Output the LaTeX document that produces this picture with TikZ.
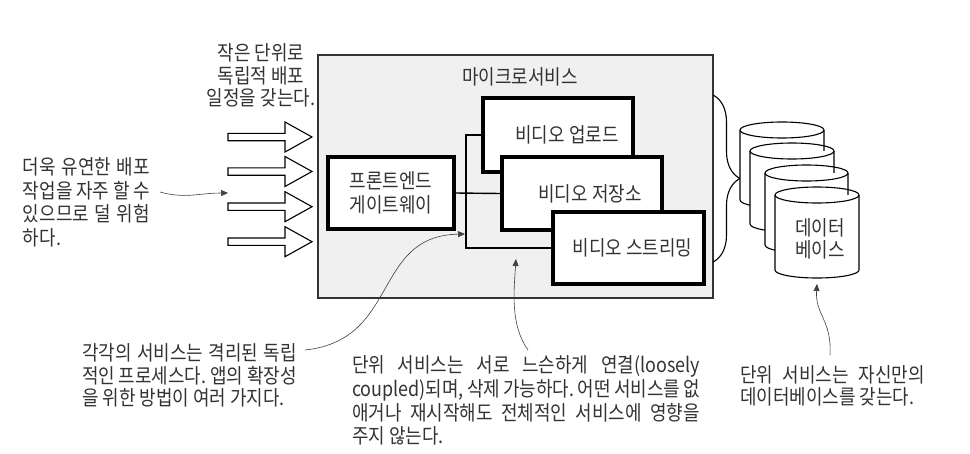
\documentclass[tikz,border=0pt]{standalone}
\usepackage{fontspec}
\setmainfont{Noto Sans CJK KR}[FakeStretch=0.875]
\usetikzlibrary{arrows.meta,decorations.pathreplacing}
\frenchspacing
\newcommand\jline[2]{\makebox[#1][s]{#2}}
\newcommand\dbcyl[4]{%
  \pgfmathsetmacro\dbcx{(#1+#3)/2}%
  \pgfmathsetmacro\dbrx{(#3-#1)/2}%
  \fill[white] (#1,#2+8) rectangle (#3,#4-8);
  \fill[white] (\dbcx,#4-8) ellipse[x radius=\dbrx, y radius=8];
  \draw[cylline] (#1,#2+8) -- (#1,#4-8) arc[start angle=180,end angle=0,x radius=\dbrx,y radius=8] -- (#3,#2+8);
  \draw[cylline] (\dbcx,#2+8) ellipse[x radius=\dbrx, y radius=8];
}
\begin{document}
\frenchspacing
\begin{tikzpicture}[x=1pt,y=-1pt,
  txt/.style={text=black!80, inner sep=0pt, font=\frenchspacing\fontsize{20.5}{22.5}\selectfont},
  svc/.style={draw=black, line width=3.2pt, fill=white, inner sep=0pt, text=black!80, font=\fontsize{20.5}{24}\selectfont},
  conn/.style={line width=1.4pt, draw=black},
  note/.style={draw=black!75, line width=0.6pt, -{Triangle[length=7pt,width=6pt]}},
  hollow/.style={draw=black, line width=1.1pt, fill=white, line join=miter},
  cylline/.style={draw=black, line width=1.1pt},
  msbox/.style={draw=black!80, line width=1.4pt, fill=black!6}
]
\useasboundingbox (0,0) rectangle (970,453);
\fill[white] (0,0) rectangle (970,453);

% main microservices box
\node[msbox, minimum width=395pt, minimum height=243pt, inner sep=0pt] (ms) at (515.5,176.5) {};
\node[txt] (mstitle) at (520,77) {마이크로서비스};

% services
\node[svc, minimum width=126pt, minimum height=72pt, align=center] (gw) at (391,193) {프론트엔드\\게이트웨이};
\node[svc, minimum width=150pt, minimum height=74pt] (up) at (558,135) {\hspace*{18pt}비디오 업로드};
\node[svc, minimum width=160pt, minimum height=73pt] (store) at (582,193.5) {\hspace*{16pt}비디오 저장소};
\node[svc, minimum width=151pt, minimum height=72pt] (stream) at (628.5,248) {\hspace*{8pt}비디오 스트리밍};

% connectors
\coordinate (bus) at (466,0);
\draw[conn] (gw.east) -- (store.west);
\draw[conn] (up.west) -- (up.west -| bus) |- (stream.west);

% hollow arrows
\foreach \c in {137,171.5,206.7,241.7}{
  \draw[hollow] (228,\c-3.7) -- (285,\c-3.7) -- (285,\c-15) -- (312,\c) -- (285,\c+15) -- (285,\c+3.7) -- (228,\c+3.7) -- cycle;
}

% brace
\coordinate (brtop) at (713,95);
\coordinate (brbot) at (713,262);
\draw[line width=1.1pt, decorate, decoration={brace, amplitude=27pt}] (brtop) -- (brbot);

% databases
\dbcyl{740}{122}{824}{208}
\dbcyl{750}{143}{834}{232}
\dbcyl{765}{165}{848}{253}
\dbcyl{775}{187}{859}{278}
\node[txt, align=center, font=\fontsize{20.5}{22}\selectfont] (db) at (820,239) {데이터\\베이스};

% texts
\node[txt, align=center] (ttop) at (261,75.5) {작은 단위로\\독립적 배포\\일정을 갖는다.};
\node[txt, align=left, font=\fontsize{20.5}{23.5}\selectfont] (tleft) at (86.5,202.5)
  {\jline{127pt}{더욱 유연한 배포}\\\jline{127pt}{작업을 자주 할 수}\\\jline{127pt}{있으므로 덜 위험}\\하다.};
\node[txt, align=left] (tproc) at (189.5,375.5)
  {\jline{215pt}{각각의 서비스는 격리된 독립}\\\jline{215pt}{적인 프로세스다. 앱의 확장성}\\을 위한 방법이 여러 가지다.};
\node[txt, align=left, font=\fontsize{20.5}{23.7}\selectfont] (tloose) at (526,400.5)
  {\jline{348pt}{단위 서비스는 서로 느슨하게 연결(loosely}\\\jline{348pt}{coupled)되며, 삭제 가능하다. 어떤 서비스를 없}\\\jline{348pt}{애거나 재시작해도 전체적인 서비스에 영향을}\\주지 않는다.};
\node[txt, align=left] (tdb) at (832.5,386)
  {\jline{185pt}{단위 서비스는 자신만의}\\데이터베이스를 갖는다.};

% annotation arrows
\coordinate (a1s) at (160,192);
\coordinate (a1e) at (228,193);
\draw[note] (a1s) .. controls (185,199) and (200,193) .. (a1e);
\coordinate (a2s) at (305,350);
\coordinate (a2e) at (465,234);
\draw[note] (a2s) .. controls (400,340) and (372,236) .. (a2e);
\coordinate (a3s) at (528,350);
\coordinate (a3e) at (516,259);
\draw[note] (a3s) .. controls (510,325) and (514,290) .. (a3e);
\coordinate (a4s) at (830,355);
\coordinate (a4e) at (817,284);
\draw[note] (a4s) .. controls (832,320) and (815,315) .. (a4e);
\end{tikzpicture}
\end{document}
